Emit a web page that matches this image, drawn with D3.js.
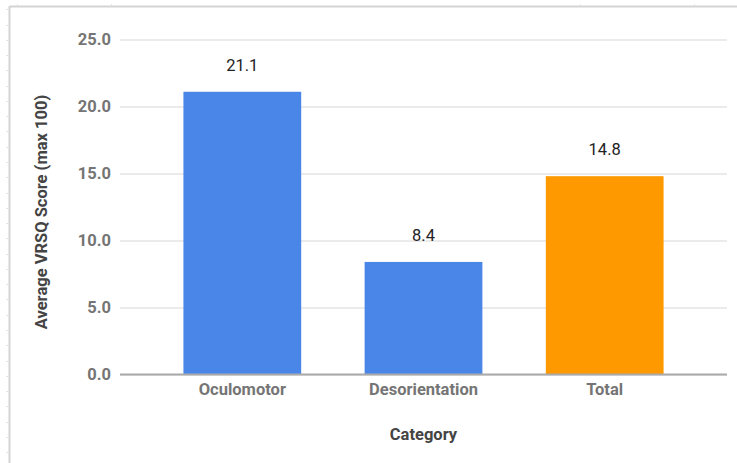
<!DOCTYPE html>
<html><head><meta charset="utf-8">
<script src="https://cdn.jsdelivr.net/npm/d3@7"></script>
<style>body{margin:0;background:#fff}svg{display:block;font-family:Roboto,"Noto Sans",sans-serif}</style>
</head><body><svg id="c" width="737" height="463"></svg>
<script>
const categories = ["Oculomotor", "Desorientation", "Total"];
const values = [21.1, 8.4, 14.8];
const barColors = ["#4a86e8", "#4a86e8", "#ff9900"];
const yTicks = [0, 5, 10, 15, 20, 25];
const yTitle = "Average VRSQ Score (max 100)";
const xTitle = "Category";

const svg = d3.select("#c");
const x = d3.scaleBand().domain(categories).range([120, 727]).paddingInner(0.35).paddingOuter(0.35);
const y = d3.scaleLinear().domain([0, 25]).range([374.5, 39.5]);

// frame (spreadsheet border)
svg.append("line").attr("x1", 9.5).attr("x2", 737).attr("y1", 6.5).attr("y2", 6.5).attr("stroke", "#d4d4d4").attr("stroke-width", 2);
svg.append("line").attr("x1", 9.5).attr("x2", 9.5).attr("y1", 6).attr("y2", 463).attr("stroke", "#d4d4d4").attr("stroke-width", 2);
const leftTicks = d3.range(9.3, 463, 15.27);
svg.selectAll(".lt").data(leftTicks).join("line").attr("x1", 6).attr("x2", 9).attr("y1", d => Math.round(d) + 0.5).attr("y2", d => Math.round(d) + 0.5).attr("stroke", "#e4e4e4");
const topTicks = [17, 111, 580, 694];
svg.selectAll(".tt").data(topTicks).join("line").attr("x1", d => d + 0.5).attr("x2", d => d + 0.5).attr("y1", 4).attr("y2", 6).attr("stroke", "#e4e4e4");

// gridlines
const yAxis = d3.axisLeft(y).tickValues(yTicks).tickSize(-(727 - 120)).tickPadding(10).tickFormat(d3.format(".1f"));
const ga = svg.append("g").attr("transform", "translate(120,0)").call(yAxis);
ga.select(".domain").remove();
ga.selectAll(".tick line").attr("stroke", "#e5e5e5").attr("stroke-width", 1.5);
ga.selectAll(".tick text").attr("fill", "#757575").attr("font-size", 16.5).attr("font-weight", "bold").attr("font-family", "Roboto").attr("x", -9);

// bars
svg.selectAll(".bar").data(categories).join("rect")
  .attr("x", d => x(d)).attr("width", x.bandwidth())
  .attr("y", (d, i) => y(values[i])).attr("height", (d, i) => y(0) - y(values[i]))
  .attr("fill", (d, i) => barColors[i]);

// zero line
svg.append("line").attr("x1", 120).attr("x2", 727).attr("y1", y(0)).attr("y2", y(0)).attr("stroke", "#aaaaaa").attr("stroke-width", 2);

// value labels
svg.selectAll(".vl").data(categories).join("text")
  .attr("x", d => x(d) + x.bandwidth() / 2).attr("y", (d, i) => y(values[i]) - 21)
  .attr("text-anchor", "middle").attr("font-size", 16.5).attr("fill", "#222")
  .text((d, i) => values[i].toFixed(1));

// x axis labels
const xAxis = d3.axisBottom(x).tickSize(0).tickPadding(9);
const gx = svg.append("g").attr("transform", `translate(0,${y(0)})`).call(xAxis);
gx.select(".domain").remove();
gx.selectAll(".tick text").attr("fill", "#757575").attr("font-size", 16.5).attr("font-weight", "bold").attr("font-family", "Roboto");

// titles
svg.append("text").attr("x", 423.5).attr("y", 440).attr("text-anchor", "middle").attr("font-size", 16.5).attr("font-weight", "bold").attr("fill", "#444").text(xTitle);
svg.append("text").attr("transform", "translate(47,212) rotate(-90)").attr("text-anchor", "middle").attr("font-size", 16.5).attr("font-weight", "bold").attr("fill", "#444").text(yTitle);
</script></body></html>
